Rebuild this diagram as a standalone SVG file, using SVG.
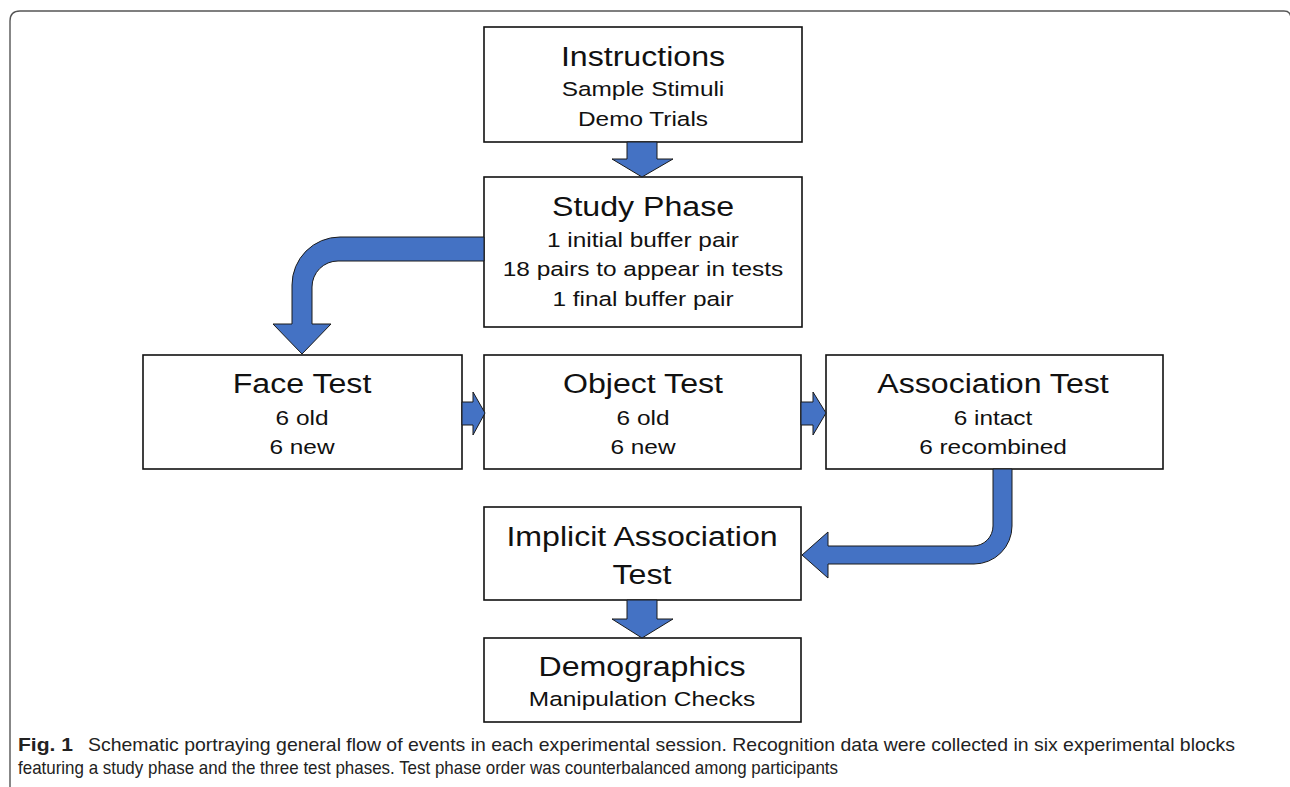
<svg xmlns="http://www.w3.org/2000/svg" width="1290" height="787" viewBox="0 0 1290 787">
<style>
.box{fill:#fff;stroke:#111;stroke-width:1.6}
.arr{fill:#4472C4;stroke:#1a1a1a;stroke-width:1}
.t{font-family:"Liberation Sans",Arial,sans-serif;font-size:27px;fill:#111;text-anchor:middle}
.s{font-family:"Liberation Sans",Arial,sans-serif;font-size:20.5px;fill:#111;text-anchor:middle}
.cap{font-family:"Liberation Sans",Arial,sans-serif;font-size:19px;fill:#222}
.frame{fill:none;stroke:#555;stroke-width:1.4}
</style>
<rect width="1290" height="787" fill="#fff"/>
<path class="frame" d="M10,787 V21 Q10,11 20,11 H1284 Q1291,11 1291,19 V787"/>

<g id="instructions">
<rect class="box" x="484" y="27" width="318" height="115"/>
<text class="t" transform="matrix(1.19,0,0,1,643,0)" x="0" y="66">Instructions</text>
<text class="s" transform="matrix(1.19,0,0,1,643,0)" x="0" y="96">Sample Stimuli</text>
<text class="s" transform="matrix(1.19,0,0,1,643,0)" x="0" y="126">Demo Trials</text>
</g>

<g id="study">
<rect class="box" x="484" y="177" width="318" height="150"/>
<text class="t" transform="matrix(1.19,0,0,1,643,0)" x="0" y="216">Study Phase</text>
<text class="s" transform="matrix(1.19,0,0,1,643,0)" x="0" y="247">1 initial buffer pair</text>
<text class="s" transform="matrix(1.19,0,0,1,643,0)" x="0" y="276">18 pairs to appear in tests</text>
<text class="s" transform="matrix(1.19,0,0,1,643,0)" x="0" y="306">1 final buffer pair</text>
</g>

<g id="face">
<rect class="box" x="143" y="355" width="319" height="114"/>
<text class="t" transform="matrix(1.19,0,0,1,302,0)" x="0" y="393">Face Test</text>
<text class="s" transform="matrix(1.19,0,0,1,302,0)" x="0" y="425">6 old</text>
<text class="s" transform="matrix(1.19,0,0,1,302,0)" x="0" y="454">6 new</text>
</g>

<g id="object">
<rect class="box" x="484" y="355" width="317" height="114"/>
<text class="t" transform="matrix(1.19,0,0,1,643,0)" x="0" y="393">Object Test</text>
<text class="s" transform="matrix(1.19,0,0,1,643,0)" x="0" y="425">6 old</text>
<text class="s" transform="matrix(1.19,0,0,1,643,0)" x="0" y="454">6 new</text>
</g>

<g id="association">
<rect class="box" x="826" y="355" width="337" height="114"/>
<text class="t" transform="matrix(1.19,0,0,1,993,0)" x="0" y="393">Association Test</text>
<text class="s" transform="matrix(1.19,0,0,1,993,0)" x="0" y="425">6 intact</text>
<text class="s" transform="matrix(1.19,0,0,1,993,0)" x="0" y="454">6 recombined</text>
</g>

<g id="implicit">
<rect class="box" x="484" y="507" width="317" height="93"/>
<text class="t" transform="matrix(1.19,0,0,1,642,0)" x="0" y="546">Implicit Association</text>
<text class="t" transform="matrix(1.19,0,0,1,642,0)" x="0" y="584">Test</text>
</g>

<g id="demographics">
<rect class="box" x="484" y="638" width="317" height="84"/>
<text class="t" transform="matrix(1.19,0,0,1,642,0)" x="0" y="676">Demographics</text>
<text class="s" transform="matrix(1.19,0,0,1,642,0)" x="0" y="706">Manipulation Checks</text>
</g>

<g id="connectors">
<polygon class="arr" points="627,142 657,142 657,159 673,159 642,177 612,159 627,159"/>
<path class="arr" d="M484,237 H340 A48,48 0 0 0 292,285 V324 H273 L302,354 L331,324 H312 V287 A26,26 0 0 1 338,261 H484 Z"/>
<polygon class="arr" points="462,402 473,402 473,392 485,413 473,435 473,425 462,425"/>
<polygon class="arr" points="801,402 813,402 813,392 826,413 813,435 813,425 801,425"/>
<path class="arr" d="M993,469 H1012 V526 A38,38 0 0 1 974,564 H828 V578 L802,555 L828,532 V546 H973 A20,20 0 0 0 993,526 Z"/>
<polygon class="arr" points="627,600 657,600 657,619 673,619 642,638 612,619 627,619"/>
</g>

<g id="caption">
<text class="cap" x="18" y="751" font-weight="bold" textLength="55" lengthAdjust="spacingAndGlyphs">Fig. 1</text>
<text class="cap" x="88" y="751" textLength="1147" lengthAdjust="spacingAndGlyphs">Schematic portraying general flow of events in each experimental session. Recognition data were collected in six experimental blocks</text>
<text class="cap" x="18" y="774" textLength="820" lengthAdjust="spacingAndGlyphs">featuring a study phase and the three test phases. Test phase order was counterbalanced among participants</text>
</g>
</svg>
